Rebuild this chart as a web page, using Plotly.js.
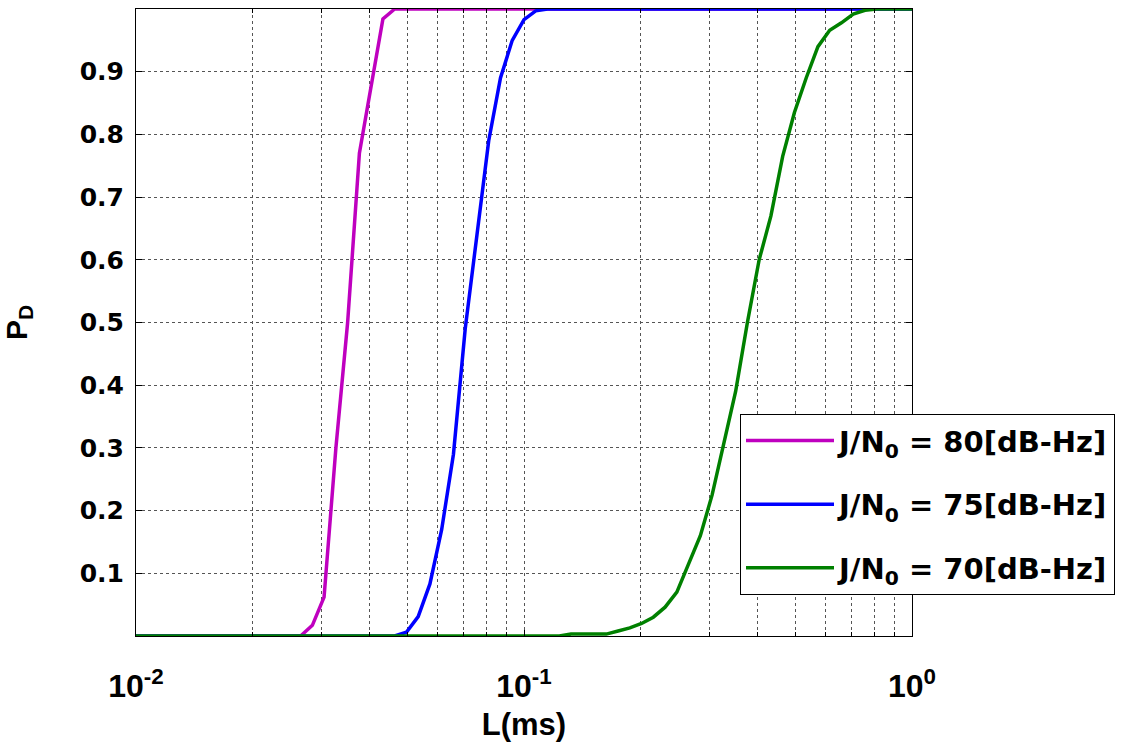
<!DOCTYPE html>
<html>
<head>
<meta charset="utf-8">
<script src="https://cdn.plot.ly/plotly-3.0.1.min.js"></script>
<style>html,body{margin:0;padding:0;background:#fff;}#chart{width:1140px;height:742px;}</style>
</head>
<body>
<div id="chart"></div>
<script>
// L (ms) sample points and detection probability P_D for each J/N0
const x80 = [0.01, 0.02656, 0.02848, 0.03053, 0.03275, 0.03511, 0.03765, 0.04037, 0.04329, 0.04642, 1];
const y80 = [0, 0, 0.017, 0.062, 0.30, 0.50, 0.77, 0.88, 0.984, 1, 1];

const x75 = [0.01, 0.04642, 0.04977, 0.05337, 0.05722, 0.06136, 0.06579, 0.07055, 0.07565, 0.08111, 0.08697, 0.09326, 0.1, 0.1072, 0.1150, 1];
const y75 = [0, 0, 0.006, 0.031, 0.083, 0.17, 0.29, 0.49, 0.64, 0.79, 0.89, 0.95, 0.983, 0.997, 1, 1];

const x70 = [0.01, 0.1233, 0.1322, 0.1418, 0.1520, 0.1630, 0.1748, 0.1874, 0.2009, 0.2154, 0.2310, 0.2477, 0.2656, 0.2848, 0.3054, 0.3275, 0.3511, 0.3765, 0.4037, 0.4329, 0.4642, 0.4977, 0.5337, 0.5722, 0.6136, 0.6579, 0.7055, 0.7565, 0.8111, 1];
const y70 = [0, 0, 0.003, 0.003, 0.003, 0.003, 0.008, 0.013, 0.02, 0.03, 0.046, 0.07, 0.115, 0.16, 0.225, 0.31, 0.39, 0.50, 0.60, 0.67, 0.765, 0.835, 0.89, 0.94, 0.966, 0.978, 0.992, 0.998, 1, 1];

const seriesNames = ['J/N<sub>0</sub> = 80[dB-Hz]', 'J/N<sub>0</sub> = 75[dB-Hz]', 'J/N<sub>0</sub> = 70[dB-Hz]'];
const seriesColors = ['#bf00bf', '#0000ff', '#008000'];

const xTickVals = [0.01, 0.1, 1];
const xTickText = ['10<sup>-2</sup>', '10<sup>-1</sup>', '10<sup>0</sup>'];
const xMinorVals = [0.02, 0.03, 0.04, 0.05, 0.06, 0.07, 0.08, 0.09, 0.2, 0.3, 0.4, 0.5, 0.6, 0.7, 0.8, 0.9];
const yTickVals = [0.1, 0.2, 0.3, 0.4, 0.5, 0.6, 0.7, 0.8, 0.9];
const yTickText = ['0.1', '0.2', '0.3', '0.4', '0.5', '0.6', '0.7', '0.8', '0.9'];

const xs = [x80, x75, x70];
const ys = [y80, y75, y70];

const traces = xs.map((xv, i) => ({
  x: xv, y: ys[i], type: 'scatter', mode: 'lines',
  name: seriesNames[i], legendgroup: 'g' + i,
  line: {color: seriesColors[i], width: 3.5}
}));

const gridStyle = {gridcolor: '#555', griddash: 'dot', gridwidth: 1};

const layout = {
  width: 1140, height: 742,
  margin: {l: 136, r: 228, t: 9, b: 106, autoexpand: false},
  paper_bgcolor: '#fff', plot_bgcolor: '#fff',
  showlegend: true,
  xaxis: {
    type: 'log', range: [-2, 0],
    tickmode: 'array', tickvals: xTickVals, ticktext: xTickText,
    ticks: 'inside', ticklen: 6, tickcolor: '#000', tickwidth: 1,
    showline: true, linecolor: '#000', linewidth: 1, mirror: 'ticks',
    showgrid: true, ...gridStyle,
    minor: {tickmode: 'array', tickvals: xMinorVals, ticks: 'inside', ticklen: 4, tickcolor: '#000', showgrid: true, ...gridStyle},
    zeroline: false,
    ticklabelstandoff: 22,
    tickfont: {family: 'Liberation Sans Narrow, Liberation Sans, Arial, sans-serif', size: 32, color: '#000', weight: 'bold'},
    title: {text: '<b>L(ms)</b>', standoff: 10, font: {family: 'Liberation Sans Narrow, Liberation Sans, Arial, sans-serif', size: 31, color: '#000'}}
  },
  yaxis: {
    range: [0, 1],
    tickmode: 'array', tickvals: yTickVals, ticktext: yTickText,
    ticks: 'inside', ticklen: 6, tickcolor: '#000', tickwidth: 1,
    showline: true, linecolor: '#000', linewidth: 1, mirror: 'ticks',
    showgrid: true, ...gridStyle,
    zeroline: false,
    ticklabelstandoff: 6,
    tickfont: {family: 'DejaVu Sans, Liberation Sans, sans-serif', size: 25, color: '#000', weight: 'bold'},
    title: {text: '<b>P<sub>D</sub></b>', standoff: 44, font: {family: 'Liberation Sans, Arial, sans-serif', size: 30, color: '#000'}}
  },
  legend: {
    x: (740 - 136) / 776, xanchor: 'left',
    y: (635.6 - 414) / 626.2, yanchor: 'top',
    bgcolor: '#fff', bordercolor: '#000', borderwidth: 1,
    itemwidth: 88,
    traceorder: 'grouped', tracegroupgap: 23,
    font: {family: 'DejaVu Sans, Liberation Sans, sans-serif', size: 29, color: '#000', weight: 'bold'}
  }
};

Plotly.newPlot('chart', traces, layout, {displayModeBar: false, staticPlot: true});
</script>
</body>
</html>
